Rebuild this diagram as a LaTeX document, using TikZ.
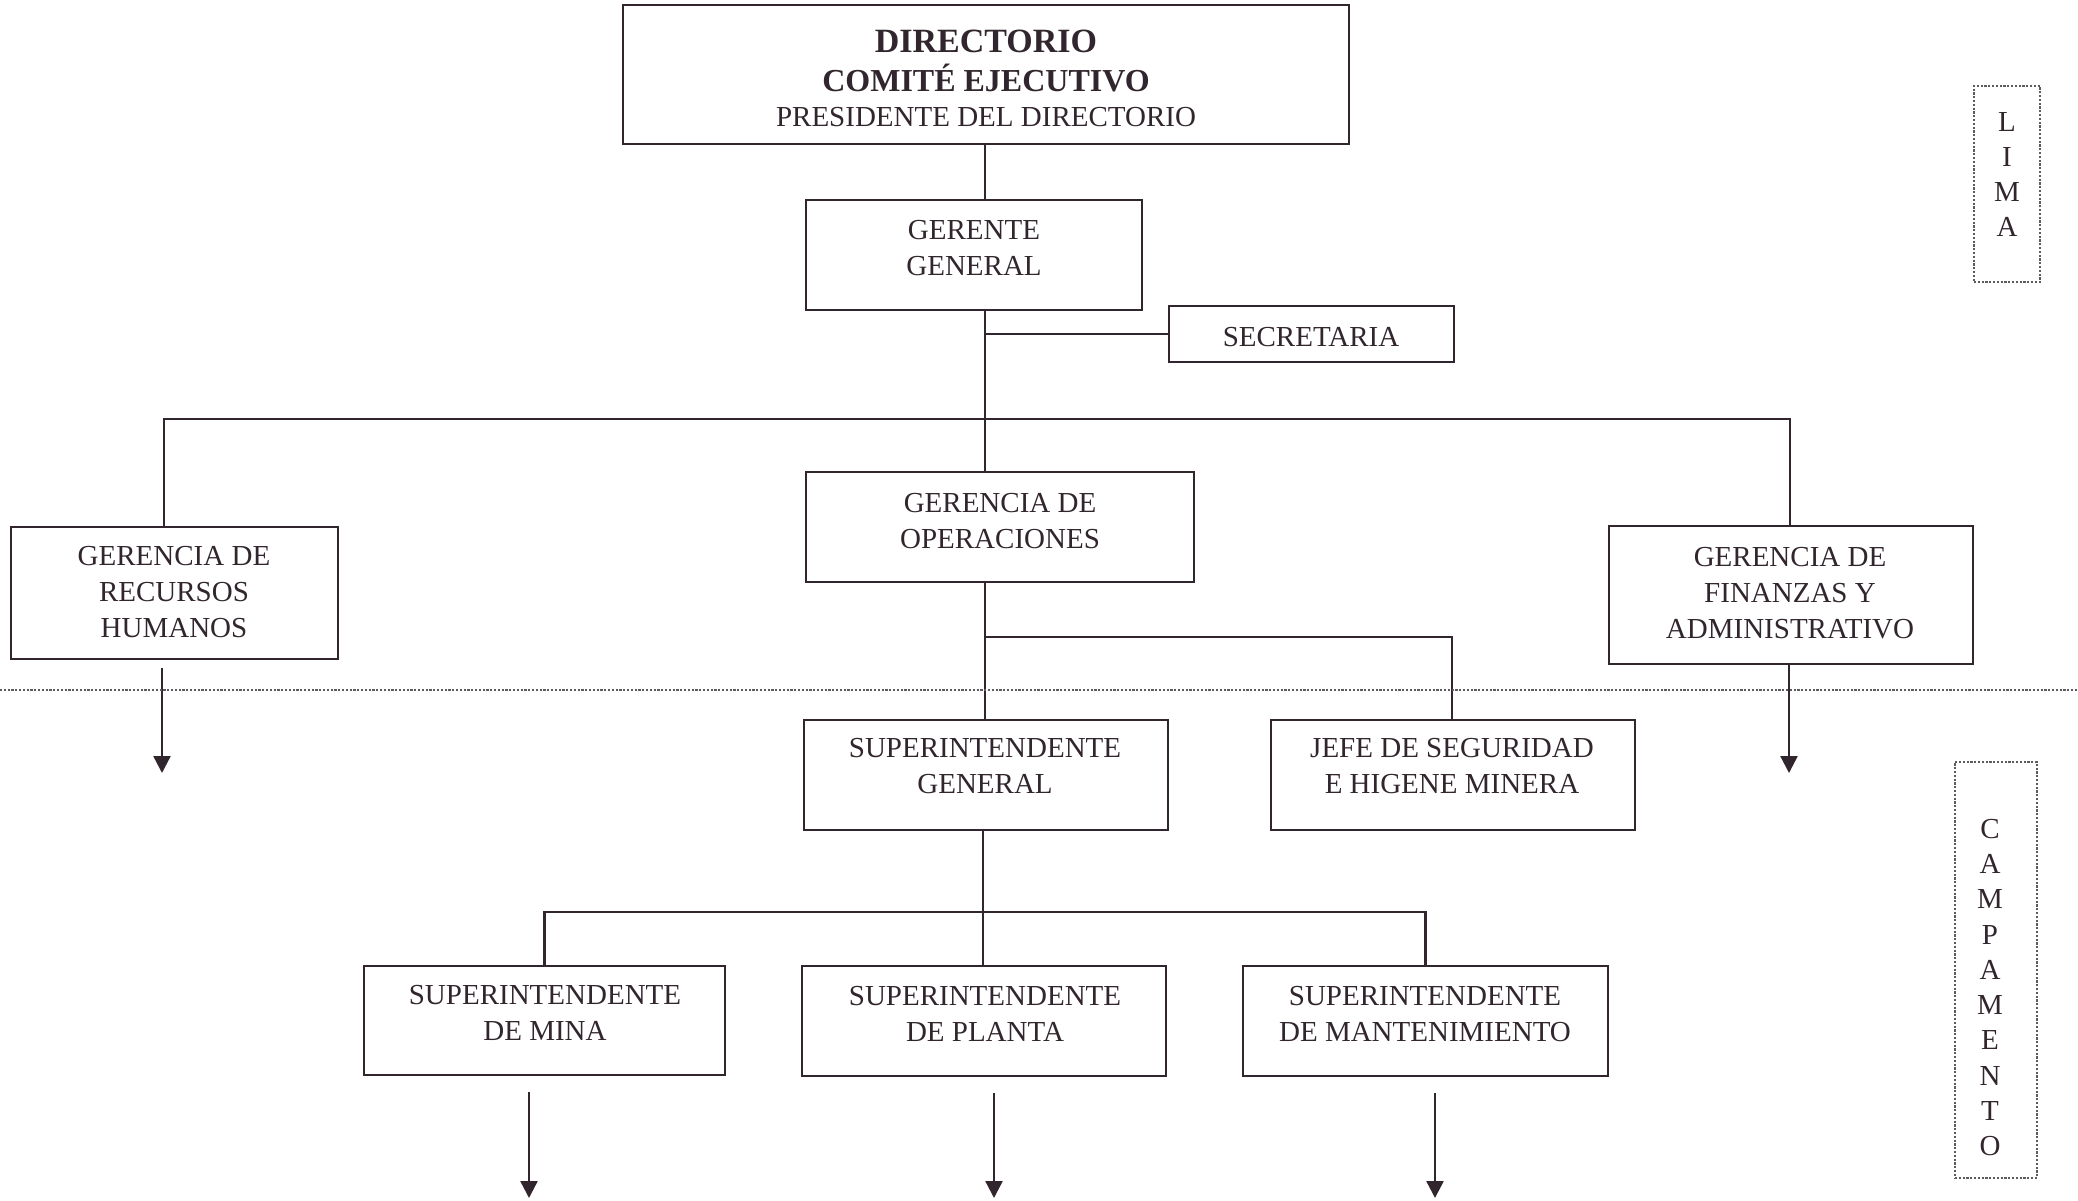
\documentclass[tikz,border=0pt]{standalone}
\usepackage{fontspec}
\setmainfont{Liberation Serif}
\usetikzlibrary{arrows.meta,calc}
\definecolor{ink}{RGB}{50,38,46}
\definecolor{dotgray}{RGB}{95,90,95}

\begin{document}
\begin{tikzpicture}[x=1pt,y=-1pt,
  box/.style={draw=ink, line width=2.6pt, rectangle, inner sep=0pt},
  lbl/.style={text=ink, font=\fontsize{29}{36}\selectfont, align=center, inner sep=0pt},
  head/.style={text=ink, inner sep=0pt, anchor=base},
  link/.style={draw=ink, line width=2.4pt},
  down/.style={link, -{Triangle[width=17pt,length=17pt]}},
  zone/.style={draw=dotgray, line width=2.4pt, dash pattern=on 2.2pt off 1.6pt},
  zonetxt/.style={text=ink, font=\fontsize{29}{35.3}\selectfont, align=center, inner sep=0pt}]

% canvas
\fill[white] (0,0) rectangle (2078,1200);
\useasboundingbox (0,0) rectangle (2078,1200);

% ---- boxes ----
\node[box, minimum width=726pt, minimum height=139pt] (dir) at (986,74.5) {};
\node[box, minimum width=336pt, minimum height=110pt] (gg)  at (974,255) {};
\node[box, minimum width=285pt, minimum height=56pt]  (sec) at (1311.5,334) {};
\node[box, minimum width=388pt, minimum height=110pt] (go)  at (1000,527) {};
\node[box, minimum width=327pt, minimum height=132pt] (grh) at (174.5,593) {};
\node[box, minimum width=364pt, minimum height=138pt] (gfa) at (1791,595) {};
\node[box, minimum width=364pt, minimum height=110pt] (sg)  at (986,775) {};
\node[box, minimum width=364pt, minimum height=110pt] (jsh) at (1453,775) {};
\node[box, minimum width=361pt, minimum height=109pt] (sm)  at (544.5,1020.5) {};
\node[box, minimum width=364pt, minimum height=110pt] (sp)  at (984,1021) {};
\node[box, minimum width=365pt, minimum height=110pt] (smt) at (1425.5,1021) {};

% ---- labels ----
\node[head, font=\bfseries\fontsize{34}{40}\selectfont] (dir-a) at (986,52) {DIRECTORIO};
\node[head, font=\bfseries\fontsize{32}{38}\selectfont] (dir-b) at (986,91.5) {COMITÉ EJECUTIVO};
\node[head, font=\fontsize{29}{36}\selectfont] (dir-c) at (986,126.5) {PRESIDENTE DEL DIRECTORIO};

\node[lbl] (gg-t)  at (974,248)  {GERENTE\\GENERAL};
\node[lbl] (sec-t) at (1311,337) {SECRETARIA};
\node[lbl] (go-t)  at (1000,521) {GERENCIA DE\\OPERACIONES};
\node[lbl] (grh-t) at (174,592)  {GERENCIA DE\\RECURSOS\\HUMANOS};
\node[lbl] (gfa-t) at (1790,593) {GERENCIA DE\\FINANZAS Y\\ADMINISTRATIVO};
\node[lbl] (sg-t)  at (985,766)  {SUPERINTENDENTE\\GENERAL};
\node[lbl] (jsh-t) at (1452,766) {JEFE DE SEGURIDAD\\E HIGENE MINERA};
\node[lbl] (sm-t)  at (545,1013) {SUPERINTENDENTE\\DE MINA};
\node[lbl] (sp-t)  at (985,1014) {SUPERINTENDENTE\\DE PLANTA};
\node[lbl] (smt-t) at (1425,1014) {SUPERINTENDENTE\\DE MANTENIMIENTO};

% ---- connectors ----
\coordinate (spine) at (985,0);
\draw[link] (dir.south -| spine) -- (gg.north -| spine);
\draw[link] (gg.south -| spine) -- (go.north -| spine);
\draw[link] (sec.west) -- (sec.west -| spine);

\coordinate (barL) at (164,419);
\coordinate (barR) at (1790,419);
\draw[link] (grh.north -| barL) -- (barL) -- (barR) -- (gfa.north -| barR);

\draw[link] (go.south -| spine) -- (sg.north -| spine);
\coordinate (opsj) at (985,637);
\draw[link] (opsj) -| (jsh.north -| 1452,0);

\coordinate (sgspine) at (983,0);
\coordinate (sgj) at (983,912);
\draw[link] (sg.south -| sgspine) -- (sp.north -| sgspine);
\draw[link] (sm.north) |- (sgj) -| (smt.north);

% ---- downward continuations ----
\coordinate (grh-out) at (162,773);
\coordinate (gfa-out) at (1789,773);
\coordinate (sm-out)  at (529,1198);
\coordinate (sp-out)  at (994,1198);
\coordinate (smt-out) at (1435,1198);
\draw[down] ($(grh.south -| grh-out)+(0,8)$) -- (grh-out);
\draw[down] (gfa.south -| gfa-out) -- (gfa-out);
\draw[down] ($(sm.south -| sm-out)+(0,16)$) -- (sm-out);
\draw[down] ($(sp.south -| sp-out)+(0,16)$) -- (sp-out);
\draw[down] ($(smt.south -| smt-out)+(0,16)$) -- (smt-out);

% ---- zones ----
\coordinate (sepL) at (0,690);
\coordinate (sepR) at (2078,690);
\draw[zone] (sepL) -- (sepR);

\node[zone, rectangle, minimum width=66pt, minimum height=196pt, inner sep=0pt] (lima) at (2007,184) {};
\node[zonetxt] (lima-t) at (2007,174.5) {L\\I\\M\\A};

\node[zone, rectangle, minimum width=82pt, minimum height=416pt, inner sep=0pt] (camp) at (1996,970) {};
\node[zonetxt] (camp-t) at (1990,987.5) {C\\A\\M\\P\\A\\M\\E\\N\\T\\O};

\end{tikzpicture}
\end{document}
